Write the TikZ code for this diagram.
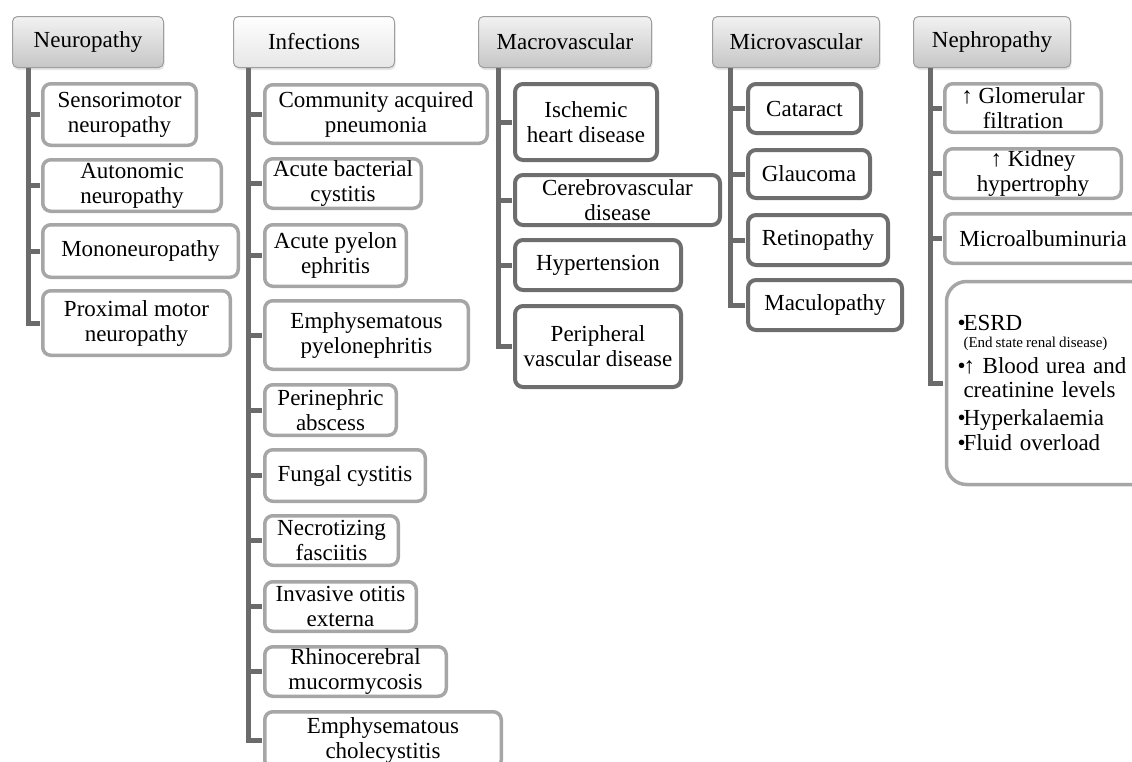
\documentclass[tikz,border=0pt]{standalone}
\usepackage{fontspec}
\setmainfont{Liberation Serif}
\usetikzlibrary{shadows}
\definecolor{hdrline}{HTML}{9E9E9E}
\definecolor{hdrtop}{HTML}{F2F2F2}
\definecolor{hdrbot}{HTML}{C6C6C6}
\definecolor{infbot}{HTML}{E6E6E6}
\definecolor{lightedge}{HTML}{A6A6A6}
\definecolor{darkedge}{HTML}{6E6E6E}
\definecolor{trunkgray}{HTML}{6B6B6B}
\newcommand{\bul}{\makebox[6pt][l]{\textbullet}}
\tikzset{
  hdr/.style={draw=hdrline, line width=1pt, rounded corners=5pt, top color=hdrtop, bottom color=hdrbot,
    drop shadow={shadow xshift=1pt, shadow yshift=-2.5pt, opacity=0.2}, minimum height=51pt, inner sep=0pt},
  leaf/.style={fill=white, rounded corners=8pt, align=center, inner sep=0pt},
  leafl/.style={leaf, draw=lightedge, line width=3.5pt},
  leafd/.style={leaf, draw=darkedge, line width=4pt},
  trunk/.style={draw=trunkgray, line width=5pt, shorten >=1.5pt},
}
\begin{document}
\begin{tikzpicture}[x=1pt, y=-1pt, font=\fontsize{23}{25}\selectfont]
  \useasboundingbox (0,0) rectangle (1132,761);
  \clip (0,0) rectangle (1132,761);
  % Headers
  \foreach \name/\l/\r/\txt in {neu/12/164/Neuropathy, mac/478/652/Macrovascular,
      mic/712/880/Microvascular, nep/913/1071/Nephropathy}
    \node[hdr, minimum width={(\r-\l-1)*1pt}] (\name) at ({(\l+\r)/2},42) {\txt};
  \node[hdr, top color=white, bottom color=infbot, minimum width=161pt] (inf) at (314,42) {Infections};
  % Trunk tops
  \coordinate (neuT) at ([xshift=16pt]neu.south west);
  \coordinate (infT) at ([xshift=15pt]inf.south west);
  \coordinate (macT) at ([xshift=20pt]mac.south west);
  \coordinate (micT) at ([xshift=18pt]mic.south west);
  \coordinate (nepT) at ([xshift=17pt]nep.south west);
  % Neuropathy
  \foreach \name/\l/\t/\r/\b/\txt in {n1/41/82/198/147/{Sensorimotor\\neuropathy},
      n2/41/158/223/213/{Autonomic\\neuropathy}, n3/41/223/240/279/Mononeuropathy,
      n4/41/289/232/357/{Proximal motor\\neuropathy}}{
    \node[leafl, minimum width={(\r-\l-3.5)*1pt}, minimum height={(\b-\t-3.5)*1pt}] (\name) at ({(\l+\r)/2},{(\t+\b)/2}) {\txt};
    \draw[trunk] (neuT |- \name.west) -- (\name.west);
  }
  \draw[trunk] (neuT) -- (neuT |- n4.west) -- (n4.west);
  % Infections
  \foreach \name/\l/\t/\r/\b/\txt in {i1/263/83/489/145/{Community acquired\\pneumonia},
      i2/263/157/423/210/{Acute bacterial\\cystitis}, i3/263/223/408/288/{Acute pyelon\\ephritis},
      i4/263/299/470/371/{Emphysematous\\pyelonephritis}, i5/263/383/398/437/{Perinephric\\abscess},
      i6/263/448/427/503/{Fungal cystitis}, i7/263/514/400/567/{Necrotizing\\fasciitis},
      i8/263/580/418/633/{Invasive otitis\\externa}, i9/263/645/448/698/{Rhinocerebral\\mucormycosis},
      i10/263/710/503/770/{Emphysematous\\cholecystitis}}{
    \node[leafl, minimum width={(\r-\l-3.5)*1pt}, minimum height={(\b-\t-3.5)*1pt}] (\name) at ({(\l+\r)/2},{(\t+\b)/2}) {\txt};
    \draw[trunk] (infT |- \name.west) -- (\name.west);
  }
  \draw[trunk] (infT) -- (infT |- i10.west) -- (i10.west);
  % Macrovascular
  \foreach \name/\l/\t/\r/\b/\txt in {ma1/513/82/659/162/{Ischemic\\heart disease},
      ma2/513/173/722/227/{Cerebrovascular\\disease}, ma3/513/238/683/292/Hypertension,
      ma4/513/304/683/389/{Peripheral\\vascular disease}}{
    \node[leafd, minimum width={(\r-\l-4)*1pt}, minimum height={(\b-\t-4)*1pt}] (\name) at ({(\l+\r)/2},{(\t+\b)/2}) {\txt};
    \draw[trunk] (macT |- \name.west) -- (\name.west);
  }
  \draw[trunk] (macT) -- (macT |- ma4.west) -- (ma4.west);
  % Microvascular
  \foreach \name/\l/\t/\r/\b/\txt in {mi1/746/82/863/135/Cataract, mi2/746/148/872/200/Glaucoma,
      mi3/746/213/890/267/Retinopathy, mi4/746/278/904/332/Maculopathy}{
    \node[leafd, minimum width={(\r-\l-4)*1pt}, minimum height={(\b-\t-4)*1pt}] (\name) at ({(\l+\r)/2},{(\t+\b)/2}) {\txt};
    \draw[trunk] (micT |- \name.west) -- (\name.west);
  }
  \draw[trunk] (micT) -- (micT |- mi4.west) -- (mi4.west);
  % Nephropathy
  \foreach \name/\l/\t/\r/\b/\txt in {ne1/943/82/1103/134/{↑ Glomerular\\filtration},
      ne2/943/147/1123/200/{↑ Kidney\\hypertrophy}, ne3/943/212/1143/265/Microalbuminuria}{
    \node[leafl, minimum width={(\r-\l-3.5)*1pt}, minimum height={(\b-\t-3.5)*1pt}] (\name) at ({(\l+\r)/2},{(\t+\b)/2}) {\txt};
    \draw[trunk] (nepT |- \name.west) -- (\name.west);
  }
  \node[leafl, rounded corners=20pt, anchor=north west, minimum height=203pt, text width=200pt,
    align=left, inner xsep=11pt] (ne4) at (944.75,279.75) {%
    \bul ESRD\\[-8pt]
    \hspace*{6pt}{\fontsize{15}{17}\selectfont\spaceskip=0.2em (End state renal disease)}\\[1pt]
    \bul ↑ Blood\hspace{7pt}urea and\\[-1pt]
    \hspace*{6pt}creatinine levels\\[3pt]
    \bul Hyperkalaemia\\
    \bul Fluid overload};
  \draw[trunk] (nepT) -- (nepT |- ne4.west) -- (ne4.west);
\end{tikzpicture}
\end{document}
